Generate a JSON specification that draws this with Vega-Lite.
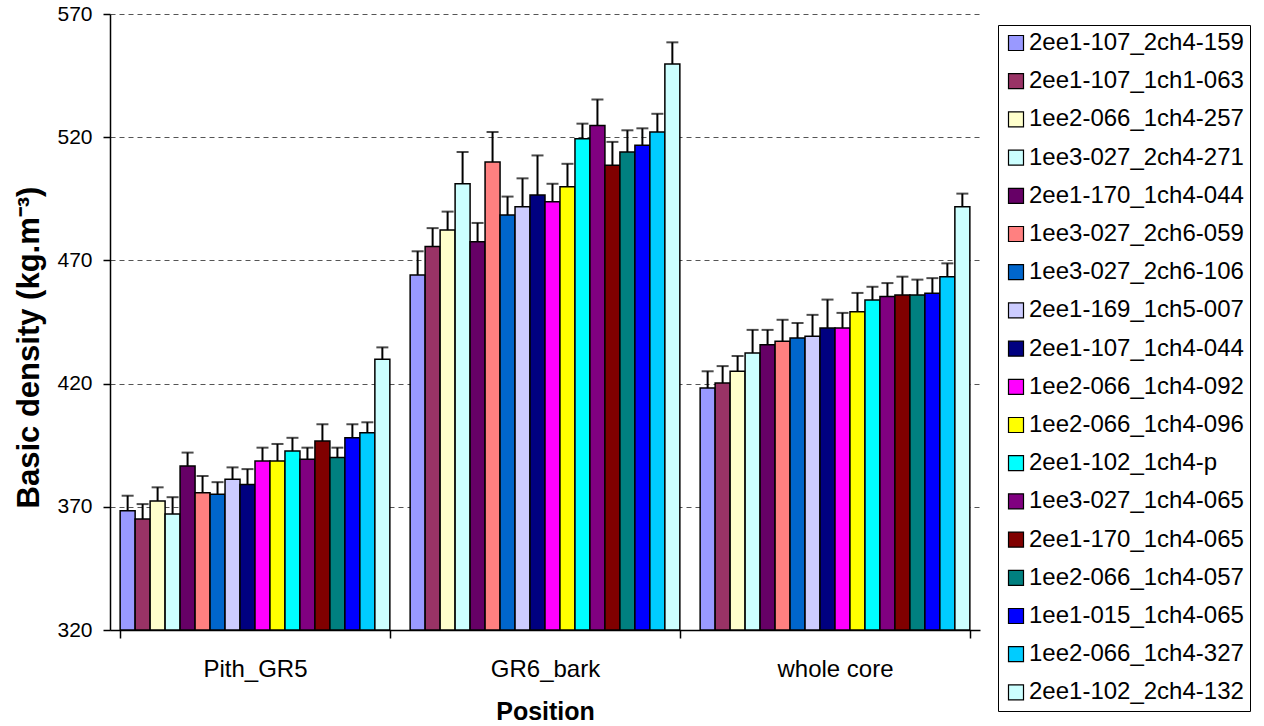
{
  "$schema": "https://vega.github.io/schema/vega-lite/v6.json",
  "width": 870,
  "height": 616,
  "autosize": {"type": "none"},
  "padding": {"left": 110, "top": 14, "right": 284, "bottom": 96},
  "background": "white",
  "config": {
    "view": {"stroke": null},
    "font": "Liberation Sans",
    "axis": {"labelFont": "Liberation Sans", "titleFont": "Liberation Sans", "labelColor": "black", "titleColor": "black", "domainColor": "black", "tickColor": "black", "domainWidth": 1.5, "tickWidth": 1.5}
  },
  "data": {"values": [
    {"position": "Pith_GR5", "clone": "2ee1-107_2ch4-159", "density": 368.4, "upper": 374.5},
    {"position": "Pith_GR5", "clone": "2ee1-107_1ch1-063", "density": 365.0, "upper": 371.1},
    {"position": "Pith_GR5", "clone": "1ee2-066_1ch4-257", "density": 372.4, "upper": 377.9},
    {"position": "Pith_GR5", "clone": "1ee3-027_2ch4-271", "density": 367.1, "upper": 373.9},
    {"position": "Pith_GR5", "clone": "2ee1-170_1ch4-044", "density": 386.6, "upper": 392.0},
    {"position": "Pith_GR5", "clone": "1ee3-027_2ch6-059", "density": 375.7, "upper": 382.5},
    {"position": "Pith_GR5", "clone": "1ee3-027_2ch6-106", "density": 375.1, "upper": 380.0},
    {"position": "Pith_GR5", "clone": "2ee1-169_1ch5-007", "density": 381.2, "upper": 386.0},
    {"position": "Pith_GR5", "clone": "2ee1-107_1ch4-044", "density": 379.1, "upper": 385.3},
    {"position": "Pith_GR5", "clone": "1ee2-066_1ch4-092", "density": 388.6, "upper": 394.0},
    {"position": "Pith_GR5", "clone": "1ee2-066_1ch4-096", "density": 388.6, "upper": 395.5},
    {"position": "Pith_GR5", "clone": "2ee1-102_1ch4-p", "density": 392.6, "upper": 398.0},
    {"position": "Pith_GR5", "clone": "1ee3-027_1ch4-065", "density": 389.3, "upper": 394.0},
    {"position": "Pith_GR5", "clone": "2ee1-170_1ch4-065", "density": 396.7, "upper": 403.5},
    {"position": "Pith_GR5", "clone": "1ee2-066_1ch4-057", "density": 390.0, "upper": 394.0},
    {"position": "Pith_GR5", "clone": "1ee1-015_1ch4-065", "density": 398.0, "upper": 403.5},
    {"position": "Pith_GR5", "clone": "1ee2-066_1ch4-327", "density": 400.1, "upper": 404.3},
    {"position": "Pith_GR5", "clone": "2ee1-102_2ch4-132", "density": 429.9, "upper": 434.7},
    {"position": "GR6_bark", "clone": "2ee1-107_2ch4-159", "density": 464.1, "upper": 473.7},
    {"position": "GR6_bark", "clone": "2ee1-107_1ch1-063", "density": 475.6, "upper": 483.1},
    {"position": "GR6_bark", "clone": "1ee2-066_1ch4-257", "density": 482.3, "upper": 489.8},
    {"position": "GR6_bark", "clone": "1ee3-027_2ch4-271", "density": 501.1, "upper": 514.0},
    {"position": "GR6_bark", "clone": "2ee1-170_1ch4-044", "density": 477.6, "upper": 485.2},
    {"position": "GR6_bark", "clone": "1ee3-027_2ch6-059", "density": 509.9, "upper": 522.1},
    {"position": "GR6_bark", "clone": "1ee3-027_2ch6-106", "density": 488.4, "upper": 495.9},
    {"position": "GR6_bark", "clone": "2ee1-169_1ch5-007", "density": 491.8, "upper": 503.3},
    {"position": "GR6_bark", "clone": "2ee1-107_1ch4-044", "density": 496.5, "upper": 512.6},
    {"position": "GR6_bark", "clone": "1ee2-066_1ch4-092", "density": 493.8, "upper": 501.1},
    {"position": "GR6_bark", "clone": "1ee2-066_1ch4-096", "density": 499.9, "upper": 509.2},
    {"position": "GR6_bark", "clone": "2ee1-102_1ch4-p", "density": 519.4, "upper": 525.5},
    {"position": "GR6_bark", "clone": "1ee3-027_1ch4-065", "density": 524.7, "upper": 535.3},
    {"position": "GR6_bark", "clone": "2ee1-170_1ch4-065", "density": 508.6, "upper": 518.1},
    {"position": "GR6_bark", "clone": "1ee2-066_1ch4-057", "density": 514.0, "upper": 522.8},
    {"position": "GR6_bark", "clone": "1ee1-015_1ch4-065", "density": 516.7, "upper": 523.6},
    {"position": "GR6_bark", "clone": "1ee2-066_1ch4-327", "density": 522.1, "upper": 529.5},
    {"position": "GR6_bark", "clone": "2ee1-102_2ch4-132", "density": 549.7, "upper": 558.5},
    {"position": "whole core", "clone": "2ee1-107_2ch4-159", "density": 418.2, "upper": 425.0},
    {"position": "whole core", "clone": "2ee1-107_1ch1-063", "density": 420.2, "upper": 427.1},
    {"position": "whole core", "clone": "1ee2-066_1ch4-257", "density": 425.0, "upper": 431.2},
    {"position": "whole core", "clone": "1ee3-027_2ch4-271", "density": 432.4, "upper": 441.8},
    {"position": "whole core", "clone": "2ee1-170_1ch4-044", "density": 435.8, "upper": 441.8},
    {"position": "whole core", "clone": "1ee3-027_2ch6-059", "density": 437.2, "upper": 445.9},
    {"position": "whole core", "clone": "1ee3-027_2ch6-106", "density": 438.5, "upper": 444.6},
    {"position": "whole core", "clone": "2ee1-169_1ch5-007", "density": 439.2, "upper": 447.9},
    {"position": "whole core", "clone": "2ee1-107_1ch4-044", "density": 442.6, "upper": 454.1},
    {"position": "whole core", "clone": "1ee2-066_1ch4-092", "density": 442.6, "upper": 448.7},
    {"position": "whole core", "clone": "1ee2-066_1ch4-096", "density": 449.2, "upper": 456.8},
    {"position": "whole core", "clone": "2ee1-102_1ch4-p", "density": 453.9, "upper": 459.3},
    {"position": "whole core", "clone": "1ee3-027_1ch4-065", "density": 455.3, "upper": 460.8},
    {"position": "whole core", "clone": "2ee1-170_1ch4-065", "density": 456.0, "upper": 463.4},
    {"position": "whole core", "clone": "1ee2-066_1ch4-057", "density": 456.0, "upper": 462.2},
    {"position": "whole core", "clone": "1ee1-015_1ch4-065", "density": 456.7, "upper": 462.8},
    {"position": "whole core", "clone": "1ee2-066_1ch4-327", "density": 463.4, "upper": 468.8},
    {"position": "whole core", "clone": "2ee1-102_2ch4-132", "density": 491.8, "upper": 497.1}
  ]},
  "encoding": {
    "x": {
      "field": "position", "type": "nominal", "sort": ["Pith_GR5", "GR6_bark", "whole core"],
      "scale": {"paddingInner": 0.07, "paddingOuter": 0.035},
      "axis": {"title": "Position", "titleFontSize": 25, "titleFontWeight": "bold", "titlePadding": 18, "labelFontSize": 24, "labelAngle": 0, "labelPadding": 19, "tickSize": 8, "tickBand": "extent", "grid": false}
    },
    "xOffset": {
      "field": "clone", "type": "nominal",
      "sort": ["2ee1-107_2ch4-159", "2ee1-107_1ch1-063", "1ee2-066_1ch4-257", "1ee3-027_2ch4-271", "2ee1-170_1ch4-044", "1ee3-027_2ch6-059", "1ee3-027_2ch6-106", "2ee1-169_1ch5-007", "2ee1-107_1ch4-044", "1ee2-066_1ch4-092", "1ee2-066_1ch4-096", "2ee1-102_1ch4-p", "1ee3-027_1ch4-065", "2ee1-170_1ch4-065", "1ee2-066_1ch4-057", "1ee1-015_1ch4-065", "1ee2-066_1ch4-327", "2ee1-102_2ch4-132"],
      "scale": {"paddingInner": 0, "paddingOuter": 0}
    }
  },
  "layer": [
    {
      "mark": {"type": "bar", "stroke": "black", "strokeWidth": 1.5},
      "encoding": {
        "y": {
          "field": "density", "type": "quantitative",
          "scale": {"domain": [320, 570], "zero": false, "nice": false},
          "axis": {"title": "Basic density (kg.m⁻³)", "titleFontSize": 31, "titleFontWeight": "bold", "titlePadding": 11, "titleY": 333, "labelFontSize": 21, "labelPadding": 11, "tickSize": 7, "values": [320, 370, 420, 470, 520, 570], "grid": true, "gridColor": "#555555", "gridDash": [5, 4], "gridWidth": 1}
        },
        "y2": {"datum": 320},
        "color": {
          "field": "clone", "type": "nominal",
          "sort": ["2ee1-107_2ch4-159", "2ee1-107_1ch1-063", "1ee2-066_1ch4-257", "1ee3-027_2ch4-271", "2ee1-170_1ch4-044", "1ee3-027_2ch6-059", "1ee3-027_2ch6-106", "2ee1-169_1ch5-007", "2ee1-107_1ch4-044", "1ee2-066_1ch4-092", "1ee2-066_1ch4-096", "2ee1-102_1ch4-p", "1ee3-027_1ch4-065", "2ee1-170_1ch4-065", "1ee2-066_1ch4-057", "1ee1-015_1ch4-065", "1ee2-066_1ch4-327", "2ee1-102_2ch4-132"],
          "scale": {
            "domain": ["2ee1-107_2ch4-159", "2ee1-107_1ch1-063", "1ee2-066_1ch4-257", "1ee3-027_2ch4-271", "2ee1-170_1ch4-044", "1ee3-027_2ch6-059", "1ee3-027_2ch6-106", "2ee1-169_1ch5-007", "2ee1-107_1ch4-044", "1ee2-066_1ch4-092", "1ee2-066_1ch4-096", "2ee1-102_1ch4-p", "1ee3-027_1ch4-065", "2ee1-170_1ch4-065", "1ee2-066_1ch4-057", "1ee1-015_1ch4-065", "1ee2-066_1ch4-327", "2ee1-102_2ch4-132"],
            "range": ["#9999FF", "#993366", "#FFFFCC", "#CCFFFF", "#660066", "#FF8080", "#0066CC", "#CCCCFF", "#000080", "#FF00FF", "#FFFF00", "#00FFFF", "#800080", "#800000", "#008080", "#0000FF", "#00CCFF", "#CCFFFF"]
          },
          "legend": {
            "title": null, "orient": "none", "legendX": 888, "legendY": 11,
            "direction": "vertical",
            "strokeColor": "black", "fillColor": "white", "padding": 6,
            "labelFontSize": 24, "labelFont": "Liberation Sans", "labelColor": "black", "labelLimit": 400,
            "symbolType": "square", "symbolSize": 225, "symbolStrokeColor": "black", "symbolStrokeWidth": 1.2, "symbolOpacity": 1,
            "labelOffset": 1, "rowPadding": 14.2
          }
        }
      }
    },
    {
      "mark": {"type": "rule", "color": "black", "strokeWidth": 2},
      "encoding": {
        "y": {"field": "density", "type": "quantitative"},
        "y2": {"field": "upper"}
      }
    },
    {
      "mark": {"type": "tick", "color": "black", "thickness": 2, "size": 12, "orient": "horizontal"},
      "encoding": {
        "y": {"field": "upper", "type": "quantitative"}
      }
    }
  ]
}
